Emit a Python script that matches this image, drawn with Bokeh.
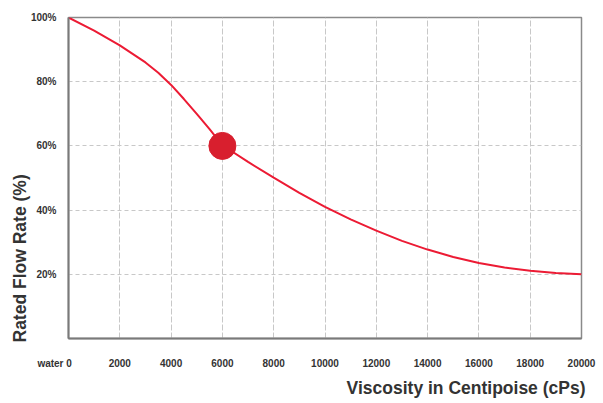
import numpy as np
from bokeh.plotting import figure
from bokeh.models import FixedTicker, Range1d, Title
from bokeh.embed import file_html
from bokeh.resources import INLINE

viscosity = [0, 1000, 2000, 3000, 3500, 4000, 4500, 5000, 5500, 6000, 7000,
             8000, 9000, 10000, 11000, 12000, 13000, 14000, 15000, 16000, 17000,
             18000, 19000, 20000]
flow_rate = [100, 95.9, 91.3, 86, 82.8, 79, 74.6, 70, 65.2, 60.2, 55.0,
             50.1, 45.4, 41.0, 37.1, 33.6, 30.4, 27.7, 25.4, 23.5, 22.1,
             21.1, 20.4, 20]
marker_x = [6000]
marker_y = [60]
x_ticks = [0, 2000, 4000, 6000, 8000, 10000, 12000, 14000, 16000, 18000, 20000]
x_tick_labels = {0: "water 0\u00a0\u00a0\u00a0\u00a0\u00a0\u00a0\u00a0\u00a0\u00a0\u00a0"}
y_ticks = [20, 40, 60, 80, 100]
y_tick_labels = {20: "20%", 40: "40%", 60: "60%", 80: "80%", 100: "100%"}
x_title = "Viscosity in Centipoise (cPs)"
y_title = "Rated Flow Rate (%)"

FONT = "Liberation Sans"

p = figure(width=603, height=403, output_backend="svg", toolbar_location=None,
           x_range=Range1d(0, 20000), y_range=Range1d(0, 100),
           min_border_left=68, min_border_right=22, min_border_top=17, min_border_bottom=65)

p.outline_line_color = "#8a8a8a"
p.outline_line_width = 1.5

for ax in (p.xaxis[0], p.yaxis[0]):
    ax.axis_line_color = "#7a7a7a"
    ax.axis_line_width = 2
    ax.major_tick_line_color = None
    ax.minor_tick_line_color = None
    ax.major_label_text_font = FONT
    ax.major_label_text_font_style = "bold"
    ax.major_label_text_color = "#333333"

p.xaxis.ticker = FixedTicker(ticks=x_ticks)
p.xaxis.major_label_overrides = x_tick_labels
p.xaxis.major_label_text_font_size = "10px"
p.xaxis.major_label_standoff = 13
p.yaxis.ticker = FixedTicker(ticks=y_ticks)
p.yaxis.major_label_overrides = y_tick_labels
p.yaxis.major_label_text_font_size = "10px"
p.yaxis.major_label_standoff = 6

p.xgrid.grid_line_color = "#c8c8c8"
p.xgrid.grid_line_dash = "6 2"
p.ygrid.grid_line_color = "#c8c8c8"
p.ygrid.grid_line_dash = "4 3"

p.line(viscosity, flow_rate, line_color="#ec1b34", line_width=2)
p.scatter(marker_x, marker_y, size=27, fill_color="#d81f2e", line_color="#d81f2e")

p.add_layout(Title(text=x_title, align="right", offset=-4, standoff=9,
                   text_font=FONT, text_font_style="bold", text_font_size="17.5px",
                   text_color="#333333"), "below")
p.add_layout(Title(text=y_title, align="left", offset=-4, standoff=-5,
                   text_font=FONT, text_font_style="bold", text_font_size="17.5px",
                   text_color="#333333"), "left")

open("out.html", "w").write(file_html(p, INLINE))
